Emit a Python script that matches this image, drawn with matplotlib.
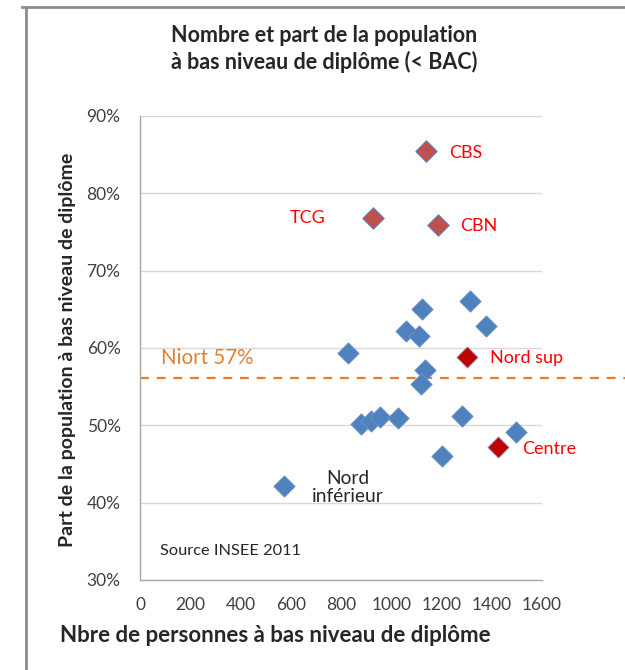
import matplotlib
matplotlib.use("Agg")
import matplotlib.pyplot as plt
from matplotlib.lines import Line2D
import matplotlib.transforms as mtrans

plt.rcParams['font.family'] = ['Lato', 'DejaVu Sans']

# Data
blue_x = [1123, 1312, 1376, 1059, 1109, 828, 1136, 1119, 879, 919, 955, 1025, 1283, 1496, 1201, 573]
blue_y = [65.0, 66.1, 62.8, 62.2, 61.6, 59.3, 57.1, 55.4, 50.2, 50.6, 51.05, 50.9, 51.2, 49.1, 46.0, 42.1]

brown_names = ["CBS", "TCG", "CBN"]
brown_x = [1139, 929, 1187]
brown_y = [85.5, 76.75, 75.9]

red_names = ["Nord sup", "Centre"]
red_x = [1303, 1423]
red_y = [58.8, 47.2]

niort_value = 56.1
niort_label = "Niort 57%"

x_ticks = [0, 200, 400, 600, 800, 1000, 1200, 1400, 1600]
y_ticks = [30, 40, 50, 60, 70, 80, 90]

title = "Nombre et part de la population\nà bas niveau de diplôme (< BAC)"
xlabel = "Nbre de personnes à bas niveau de diplôme"
ylabel = "Part de la population à bas niveau de diplôme"

fig = plt.figure(figsize=(6.25, 6.7), dpi=100)
ax = fig.add_axes([140/625, 1-580/670, (542-140)/625, (580-116)/670])

ax.set_xlim(0, 1600)
ax.set_ylim(30, 90)
ax.set_xticks(x_ticks)
ax.set_yticks(y_ticks)
ax.set_xticklabels([str(v) for v in x_ticks])
ax.set_yticklabels([f"{v}%" for v in y_ticks])
ax.tick_params(axis='both', length=0, labelsize=12.5, labelcolor='#404040')
ax.tick_params(axis='x', pad=12)
ax.tick_params(axis='y', pad=14)
ax.grid(axis='y', color='#D9D9D9', linewidth=1)
ax.set_axisbelow(True)
for s in ['top', 'right']:
    ax.spines[s].set_visible(False)
for s in ['left', 'bottom']:
    ax.spines[s].set_color('#A6A6A6')
    ax.spines[s].set_linewidth(1)

# Niort dashed line (extends beyond plot area to the figure edge)
trans = mtrans.blended_transform_factory(fig.transFigure, ax.transData)
ax.add_line(Line2D([140/625, 1.0], [niort_value, niort_value], transform=trans,
                   color='#E87D2A', linestyle=(0, (4, 3.5)), linewidth=1.6, clip_on=False))

ax.scatter(blue_x, blue_y, marker='D', s=118, color='#4F81BD', edgecolor='#6A95CC',
           linewidth=0.6, zorder=3)
ax.scatter(brown_x, brown_y, marker='D', s=118, color='#C0504D', edgecolor='#5B7FB8',
           linewidth=0.8, zorder=3)
ax.scatter(red_x, red_y, marker='D', s=118, color='#C00000', edgecolor='#9AA9C8',
           linewidth=0.6, zorder=3)

red_text_pos = {"CBS": (1232, 85.2), "TCG": (596, 76.8), "CBN": (1276, 75.75),
                "Nord sup": (1392, 58.65), "Centre": (1520, 46.9)}
for name, (tx, ty) in red_text_pos.items():
    ax.text(tx, ty, name, color='#FF0000', fontsize=13, ha='left', va='center', clip_on=False)

ax.text(84, 58.65, niort_label, color='#E87D2A', fontsize=14.8, ha='left', va='center')
ax.text(826, 41.95, "Nord\ninférieur", color='#262626', fontsize=13.8, ha='center', va='center',
        linespacing=1.05)
ax.text(80, 33.8, "Source INSEE 2011", color='#262626', fontsize=11.8, ha='left', va='center')

fig.text(324/625, 1-49/670, title, ha='center', va='center', fontsize=15.5, fontweight='bold',
         color='#262626', linespacing=1.3)
fig.text(275/625, 1-635/670, xlabel, ha='center', va='center', fontsize=16, fontweight='bold',
         color='#262626')
fig.text(68/625, 1-350/670, ylabel, ha='center', va='center', fontsize=14, fontweight='bold',
         color='#262626', rotation=90)

# frame
fig.add_artist(Line2D([22/625, 1.0], [1-6.5/670, 1-6.5/670], transform=fig.transFigure,
                      color='#8C8C8C', linewidth=2))
fig.add_artist(Line2D([25.5/625, 25.5/625], [0, 1-6.5/670], transform=fig.transFigure,
                      color='#8C8C8C', linewidth=2))

fig.savefig("out.png", dpi=100)
